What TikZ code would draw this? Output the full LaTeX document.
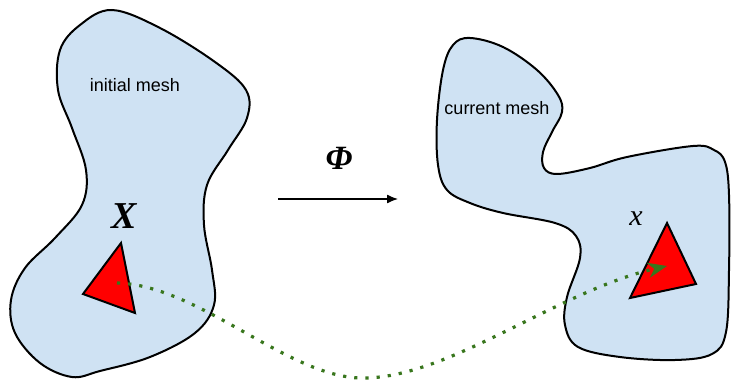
\documentclass[tikz,border=0pt]{standalone}
\usepackage{fontspec}
\setmainfont{Liberation Sans}
\newfontfamily\timesfont{Liberation Serif}
\usetikzlibrary{positioning,arrows.meta}
\definecolor{meshblue}{RGB}{207,226,243}
\definecolor{elemred}{RGB}{255,0,0}
\definecolor{trackgreen}{RGB}{56,118,29}
\tikzset{
  mesh/.style={draw=black, fill=meshblue, line width=1pt},
  elem/.style={draw=black, fill=elemred, line width=1pt, line join=miter},
  maparrow/.style={-{Latex[length=5.5pt,width=4.5pt]}, line width=0.65pt, draw=black},
  track/.style={
    -{Stealth[length=9.5pt,width=7.5pt,inset=3pt]},
    draw=trackgreen,
    line width=1.6pt,
    dash pattern=on 1.6pt off 4pt
  },
  meshlabel/.style={font=\fontsize{9}{11}\selectfont, text=black, inner sep=0pt},
  reflabel/.style={font=\timesfont\bfseries\itshape\fontsize{19}{22}\selectfont, inner sep=0pt},
  maplabel/.style={font=\timesfont\bfseries\itshape\fontsize{17}{19}\selectfont, inner sep=0pt},
  curlabel/.style={font=\timesfont\itshape\fontsize{15}{17}\selectfont, inner sep=0pt}
}

\begin{document}
\begin{tikzpicture}[x=0.5pt, y=-0.5pt]
\useasboundingbox (0,0) rectangle (731,384);

% Initial mesh
\draw[mesh] plot[smooth cycle, tension=0.6] coordinates {
  (112,10) (160,28) (215,62) (246,90) (247,118) (228,150) (207,185)
  (204,225) (212,270) (214,305) (195,333) (150,357) (100,371) (72,377)
  (40,363) (15,333) (11,300) (25,268) (55,238) (82,205) (86,170)
  (72,128) (58,90) (60,50) (80,25)};

% Current mesh
\draw[mesh] plot[smooth cycle, tension=0.6] coordinates {
  (470,38) (503,47) (537,70) (558,95) (562,112) (552,132) (543,152)
  (544,168) (557,174) (590,168) (627,157) (693,146) (714,150) (725,162)
  (729,195) (729,270) (726,332) (712,354) (675,360) (620,357) (578,347)
  (565,325) (567,297) (580,258) (576,236) (555,223) (503,213) (470,203)
  (447,190) (438,165) (437,120) (443,70) (453,45)};

% Elements
\coordinate (Xa) at (121,243);
\coordinate (Xb) at (83,294);
\coordinate (Xc) at (135,313);
\coordinate (xa) at (667,223);
\coordinate (xb) at (630,298);
\coordinate (xc) at (696,284);
\draw[elem] (Xa) -- (Xb) -- (Xc) -- cycle;
\draw[elem] (xa) -- (xb) -- (xc) -- cycle;

% Labels
\node[meshlabel] (initlbl) at (135,85) {initial mesh};
\node[meshlabel] (curlbl) at (497,108) {current mesh};
\node[reflabel] (Xlbl) at (124,216) {X};
\node[curlabel] (xlbl) at (636,219) {x};

% Mapping
\coordinate (mapstart) at (278,199);
\coordinate (mapend) at (398,199);
\draw[maparrow] (mapstart) -- (mapend);
\node[maplabel] (philbl) at (339,158) {Φ};

% Track of the element
\coordinate (Xpt) at (117,283);
\coordinate (xpt) at (667,266);
\draw[track] (Xpt) .. controls (200,285) and (290,380) .. (365,378)
  .. controls (450,377) and (560,290) .. (xpt);

\end{tikzpicture}
\end{document}
